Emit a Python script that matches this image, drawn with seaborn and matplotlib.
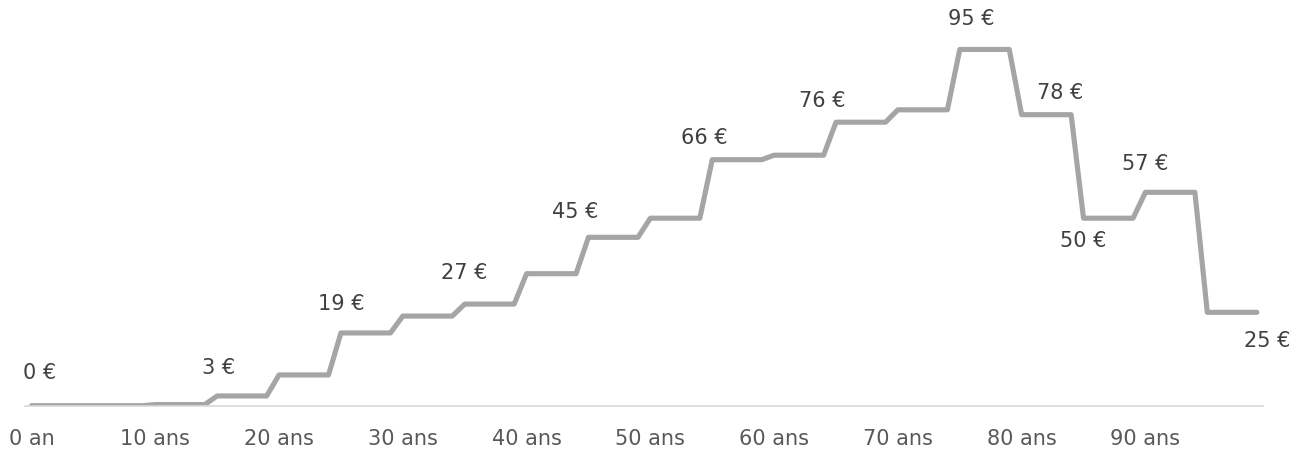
import matplotlib
matplotlib.use("Agg")
import matplotlib.pyplot as plt
import seaborn as sns
import pandas as pd

# ages 0..99, monthly amount (EUR)
ages = list(range(100))
amounts = [
    0, 0, 0, 0, 0, 0, 0, 0, 0, 0,
    0.3, 0.3, 0.3, 0.3, 0.3, 2.6, 2.6, 2.6, 2.6, 2.6,
    8.2, 8.2, 8.2, 8.2, 8.2, 19.4, 19.4, 19.4, 19.4, 19.4,
    23.9, 23.9, 23.9, 23.9, 23.9, 27.1, 27.1, 27.1, 27.1, 27.1,
    35.2, 35.2, 35.2, 35.2, 35.2, 44.9, 44.9, 44.9, 44.9, 44.9,
    50.0, 50.0, 50.0, 50.0, 50.0, 65.6, 65.6, 65.6, 65.6, 65.6,
    66.8, 66.8, 66.8, 66.8, 66.8, 75.6, 75.6, 75.6, 75.6, 75.6,
    78.9, 78.9, 78.9, 78.9, 78.9, 95.0, 95.0, 95.0, 95.0, 95.0,
    77.6, 77.6, 77.6, 77.6, 77.6, 50.0, 50.0, 50.0, 50.0, 50.0,
    56.9, 56.9, 56.9, 56.9, 56.9, 24.9, 24.9, 24.9, 24.9, 24.9,
]

tick_ages = [0, 10, 20, 30, 40, 50, 60, 70, 80, 90]
tick_labels = ["0 an", "10 ans", "20 ans", "30 ans", "40 ans",
               "50 ans", "60 ans", "70 ans", "80 ans", "90 ans"]

# which points carry a value label
label_ages = [0, 15, 25, 35, 45, 55, 65, 75, 80, 85, 90, 99]
# label offsets in pixels (dx, dy) relative to the point
label_offsets = [(8, 34), (1, 29), (0, 30), (0, 32), (-13, 26), (-8, 23),
                 (-14, 22), (12, 31), (39, 23), (0, -22), (0, 29), (10, -28)]

df = pd.DataFrame({"age": ages, "amount": amounts})

W, H, DPI = 1304, 452, 100
fig = plt.figure(figsize=(W / DPI, H / DPI), dpi=DPI)
ax = fig.add_axes([25.3 / W, (H - 406.7) / H, (1263 - 25.3) / W, 375 / H])

sns.lineplot(data=df, x="age", y="amount", ax=ax, color="#A5A5A5",
             linewidth=3.7, solid_capstyle="round", solid_joinstyle="round")

ax.set_xlim(-0.5, 99.5)
ax.set_ylim(0, 100)

px = 72 / DPI
for a, (dx, dy) in zip(label_ages, label_offsets):
    v = amounts[a]
    ax.annotate(f"{v:.0f} €", xy=(a, v), xytext=(dx * px, dy * px),
                textcoords="offset points", ha="center", va="center",
                fontsize=15, color="#404040")

ax.set_xticks(tick_ages)
ax.set_xticklabels(tick_labels, fontsize=15, color="#595959")
ax.tick_params(axis="x", length=0, pad=16)
ax.set_yticks([])
ax.set_xlabel("")
ax.set_ylabel("")
for s in ["top", "right", "left"]:
    ax.spines[s].set_visible(False)
ax.spines["bottom"].set_color("#D9D9D9")
ax.spines["bottom"].set_linewidth(1.2)
ax.patch.set_alpha(0)

fig.savefig("out.png", dpi=DPI)
